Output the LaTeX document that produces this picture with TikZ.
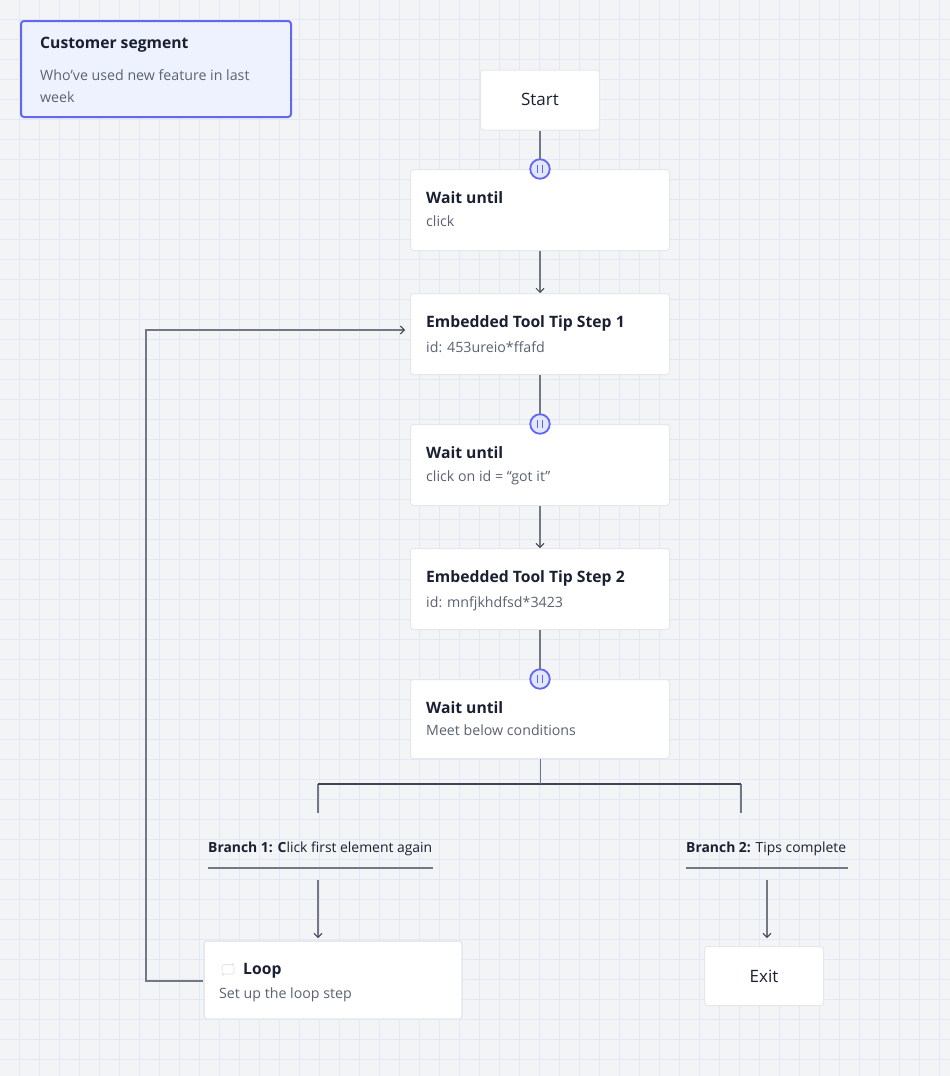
\documentclass[tikz,border=0pt]{standalone}
\usepackage{fontspec}
\setmainfont{Open Sans}
\usetikzlibrary{arrows.meta,calc}
\definecolor{bg}{HTML}{F3F4F6}
\definecolor{gridc}{HTML}{E4E8F6}
\definecolor{ink}{HTML}{1A2031}
\definecolor{subc}{HTML}{5B6272}
\definecolor{wire}{HTML}{737885}
\definecolor{dark}{HTML}{3F4454}
\definecolor{cardb}{HTML}{E5E7EB}
\definecolor{accent}{HTML}{6366F1}
\definecolor{accentf}{HTML}{EEF2FF}
\definecolor{pausef}{HTML}{E0E7FF}
\tikzset{
  x=1pt,y=-1pt,
  card/.style={draw=cardb,fill=white,line width=1pt,rounded corners=3pt,inner sep=0pt},
  seg/.style={draw=accent,fill=accentf,line width=2pt,rounded corners=3pt,inner sep=0pt},
  title/.style={anchor=base west,inner sep=0pt,text=ink,font=\fontsize{15.7}{18}\selectfont\bfseries},
  sub/.style={anchor=base west,inner sep=0pt,text=subc,font=\fontsize{14.2}{22}\selectfont},
  ctr/.style={anchor=base,inner sep=0pt,text=ink,font=\fontsize{17}{20}\selectfont},
  brl/.style={anchor=base west,inner sep=0pt,text=ink,font=\fontsize{13.9}{16}\selectfont},
  wireline/.style={draw=wire,line width=1.4pt},
  darkline/.style={draw=dark,line width=1.1pt},
  arrowline/.style={wireline,-{Straight Barb[length=4pt,width=8pt,line width=1pt,color=dark]}},
  pausec/.style={circle,draw=accent,fill=pausef,line width=1.8pt,minimum size=19.5pt,inner sep=0pt},
}
\newcommand{\cardat}[6][card]{%
  \node[#1,minimum width=#4pt,minimum height=#5pt] (#6) at (#2,#3) {};}
\begin{document}
\begin{tikzpicture}
\useasboundingbox (0,0) rectangle (950,1076);
\fill[bg] (0,0) rectangle (950,1076);
\foreach \gx in {19.5,39.5,...,950}{\draw[gridc,line width=1pt] (\gx,0) -- (\gx,1076);}
\foreach \gy in {19.5,39.5,...,1076}{\draw[gridc,line width=1pt] (0,\gy) -- (950,\gy);}

% cards
\cardat[seg]{156}{69}{270}{96}{segment}
\cardat{540}{100}{119}{60}{start}
\cardat{540}{210}{259}{81}{waita}
\cardat{540}{334}{259}{81}{stepa}
\cardat{540}{465}{259}{81}{waitb}
\cardat{540}{589}{259}{81}{stepb}
\cardat{540}{719}{259}{79}{waitc}
\node[card,line width=1.5pt,minimum width=258pt,minimum height=78pt] (loop) at (333,980) {};
\cardat{764}{976}{119}{59}{exit}

% connectors
\coordinate (pa) at (540,169);
\coordinate (pb) at (540,424);
\coordinate (pc) at (540,679);
\draw[wireline] (start.south) -- (pa);
\draw[arrowline] (waita.south) -- (stepa.north);
\draw[wireline] (stepa.south) -- (pb);
\draw[arrowline] (waitb.south) -- (stepb.north);
\draw[wireline] (stepb.south) -- (pc);

\coordinate (forkc) at (540.5,784);
\coordinate (bla) at (318,813);
\coordinate (bra) at (741,813);
\coordinate (bltop) at (318,784);
\coordinate (brtop) at (741,784);
\draw[wireline] (bla) -- (bltop);
\draw[wireline] (bra) -- (brtop);
\draw[darkline] (bltop) -- (brtop);
\draw[wireline] (waitc.south -| forkc) -- (forkc);

\coordinate (rulela) at (208,868);
\coordinate (rulelb) at (433,868);
\coordinate (rulera) at (686,868);
\coordinate (rulerb) at (848,868);
\draw[wireline] (rulela) -- (rulelb);
\draw[wireline] (rulera) -- (rulerb);

\coordinate (alb) at (318,880);
\coordinate (ale) at (318,938);
\coordinate (arb) at (767,880);
\coordinate (are) at (767,938);
\draw[arrowline] (alb) -- (ale);
\draw[arrowline] (arb) -- (are);

\draw[arrowline,shorten >=5pt] (loop.west |- 0,981) -- (146,981) -- (146,330) -- (stepa.west |- 0,330);

% pause badges
\foreach \nm/\cy in {pausea/169,pauseb/424,pausec/679}{
  \node[pausec] (\nm) at (540,\cy) {};
  \draw[accent,line width=1.2pt] (537.3,\cy-3.8) -- (537.3,\cy+3.8);
  \draw[accent,line width=1.2pt] (542.7,\cy-3.8) -- (542.7,\cy+3.8);
}

% text
\node[title] (t0) at (40,48) {Customer segment};
\node[sub] (t1) at (40,80) {Who’ve used new feature in last};
\node[sub] (t2) at (40,102) {week};
\node[ctr] (t3) at (540,105.5) {Start};
\node[title] (t4) at (426,203) {Wait until};
\node[sub] (t5) at (426,226) {click};
\node[title] (t6) at (426,327) {Embedded Tool Tip Step 1};
\node[sub] (t7) at (426,352) {id: 453ureio*ffafd};
\node[title] (t8) at (426,458) {Wait until};
\node[sub] (t9) at (426,481) {click on id = “got it”};
\node[title] (t10) at (426,582) {Embedded Tool Tip Step 2};
\node[sub] (t11) at (426,607) {id: mnfjkhdfsd*3423};
\node[title] (t12) at (426,713) {Wait until};
\node[sub] (t13) at (426,735) {Meet below conditions};
\node[brl] (t14) at (208,852) {\textbf{Branch 1: C}lick first element again};
\node[brl] (t15) at (686,852) {\textbf{Branch 2:} Tips complete};
\node[title] (t16) at (243,974) {Loop};
\node[sub] (t17) at (219,998) {Set up the loop step};
\node[ctr] (t18) at (764,982.5) {Exit};

% loop icon
\draw[cardb,line width=1pt,rounded corners=1.5pt,-{Straight Barb[length=1.5pt,width=3pt]}] (222,971) -- (222,964.5) -- (234.5,964.5);
\draw[cardb,line width=1pt,rounded corners=1.5pt,-{Straight Barb[length=1.5pt,width=3pt]}] (234,967) -- (234,974) -- (221.5,974);
\end{tikzpicture}
\end{document}
